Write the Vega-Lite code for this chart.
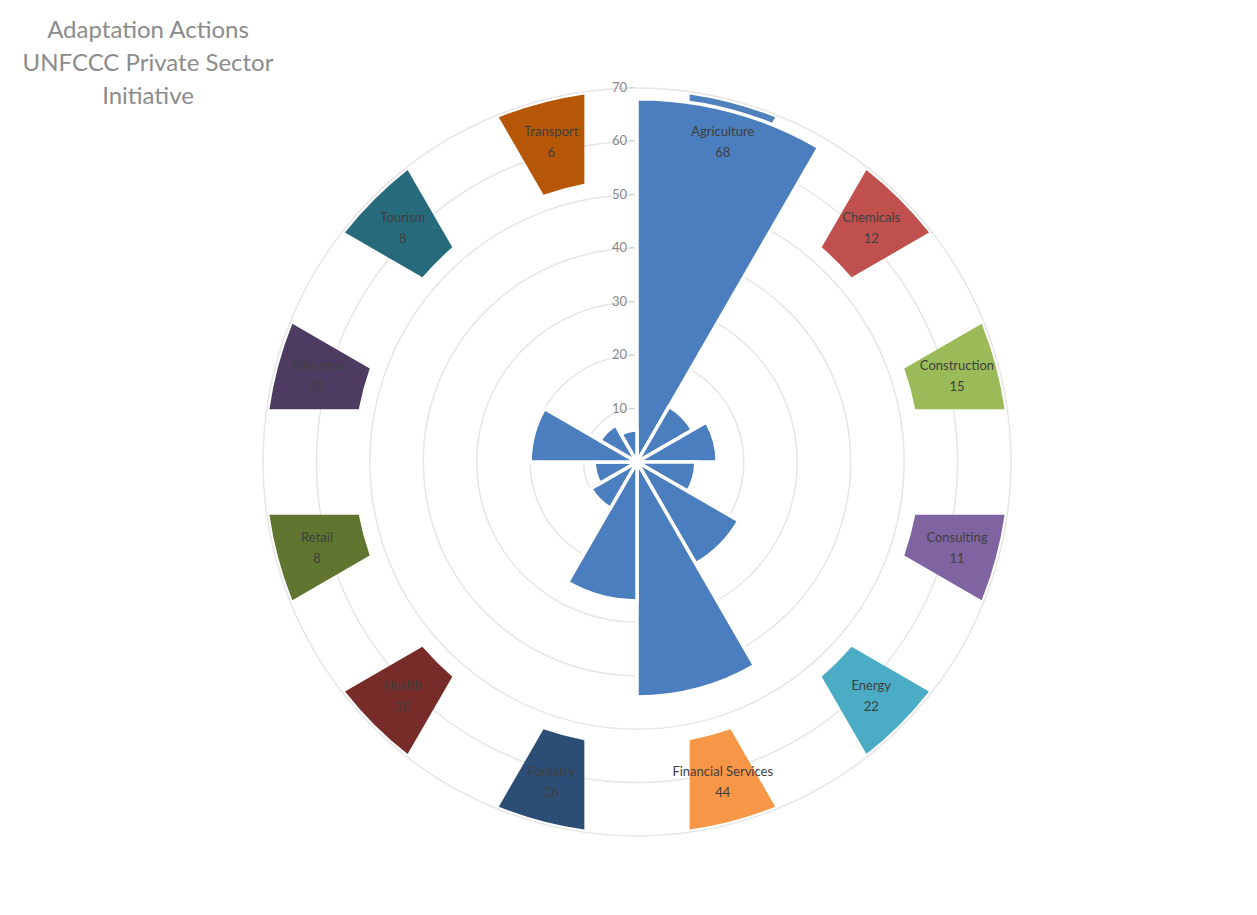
{
  "$schema": "https://vega.github.io/schema/vega-lite/v6.json",
  "width": 1240,
  "height": 906,
  "autosize": "none",
  "padding": {"left": 17, "top": 9, "right": 0, "bottom": 0},
  "background": "white",
  "config": {"view": {"stroke": null}, "font": "Lato"},
  "title": {
    "text": ["Adaptation Actions", "UNFCCC Private Sector", "Initiative"],
    "anchor": "start",
    "frame": "group",
    "align": "center",
    "baseline": "top",
    "dx": 131,
    "offset": -100,
    "fontSize": 24,
    "fontWeight": "normal",
    "color": "#8c8c8c",
    "lineHeight": 33
  },
  "datasets": {
    "sectors": [
      {"n": 1, "sector": "Agriculture", "value": 68},
      {"n": 2, "sector": "Chemicals", "value": 12},
      {"n": 3, "sector": "Construction", "value": 15},
      {"n": 4, "sector": "Consulting", "value": 11},
      {"n": 5, "sector": "Energy", "value": 22},
      {"n": 6, "sector": "Financial Services", "value": 44},
      {"n": 7, "sector": "Forestry", "value": 26},
      {"n": 8, "sector": "Health", "value": 10},
      {"n": 9, "sector": "Retail", "value": 8},
      {"n": 10, "sector": "Telecoms", "value": 20},
      {"n": 11, "sector": "Tourism", "value": 8},
      {"n": 12, "sector": "Transport", "value": 6}
    ],
    "levels": [
      {"level": 10}, {"level": 20}, {"level": 30}, {"level": 40},
      {"level": 50}, {"level": 60}, {"level": 70}
    ]
  },
  "layer": [
    {
      "data": {"name": "levels"},
      "mark": {"type": "arc", "theta": 0, "theta2": 6.2832, "filled": false, "stroke": "#e6e6e6", "strokeWidth": 1.5},
      "encoding": {
        "radius": {"field": "level", "type": "quantitative", "stack": null, "scale": {"type": "linear", "domain": [0, 70], "range": [0, 374], "zero": true}}
      }
    },
    {
      "data": {"name": "sectors"},
      "mark": {"type": "arc", "padAngle": 0.226},
      "encoding": {
        "theta": {"aggregate": "count", "type": "quantitative", "stack": true, "scale": {"domain": [0, 12]}},
        "order": {"field": "n", "type": "quantitative"},
        "radius": {"datum": 69.5, "type": "quantitative", "stack": null, "scale": {"type": "linear", "domain": [0, 70], "range": [0, 374], "zero": true}},
        "radius2": {"datum": 53},
        "color": {
          "field": "sector", "type": "nominal", "legend": null,
          "scale": {
            "domain": ["Agriculture", "Chemicals", "Construction", "Consulting", "Energy", "Financial Services", "Forestry", "Health", "Retail", "Telecoms", "Tourism", "Transport"],
            "range": ["#4F81BD", "#C0504D", "#9BBB59", "#8064A2", "#4BACC6", "#F79646", "#2C4D75", "#772C2A", "#5F7530", "#4D3B62", "#276A7C", "#B65708"]
          }
        }
      }
    },
    {
      "data": {"name": "sectors"},
      "transform": [
        {"aggregate": [{"op": "count", "as": "cnt"}], "groupby": ["n", "sector", "value"]},
        {"stack": "cnt", "groupby": [], "sort": [{"field": "n", "order": "ascending"}], "as": ["t0", "t1"]}
      ],
      "mark": {"type": "arc", "color": "#4A7EBF", "stroke": "white", "strokeWidth": 3.5},
      "encoding": {
        "theta": {"field": "t0", "type": "quantitative", "stack": null, "scale": {"domain": [0, 12]}},
        "theta2": {"field": "t1"},
        "radius": {"field": "value", "type": "quantitative", "stack": null, "scale": {"type": "linear", "domain": [0, 70], "range": [0, 374], "zero": true}}
      }
    },
    {
      "data": {"name": "levels"},
      "mark": {"type": "text", "align": "right", "baseline": "middle", "dx": -10, "fontSize": 13, "color": "#888888"},
      "encoding": {
        "theta": {"value": 0},
        "radius": {"field": "level", "type": "quantitative", "stack": null, "scale": {"type": "linear", "domain": [0, 70], "range": [0, 374], "zero": true}},
        "text": {"field": "level", "type": "quantitative"}
      }
    },
    {
      "data": {"name": "levels"},
      "mark": {"type": "text", "text": "–", "align": "right", "baseline": "middle", "dx": -2, "fontSize": 11, "color": "#c8c8c8"},
      "encoding": {
        "theta": {"value": 0},
        "radius": {"field": "level", "type": "quantitative", "stack": null, "scale": {"type": "linear", "domain": [0, 70], "range": [0, 374], "zero": true}}
      }
    },
    {
      "data": {"name": "sectors"},
      "mark": {"type": "text", "align": "center", "baseline": "middle", "dy": -10, "fontSize": 13, "color": "#404040"},
      "encoding": {
        "theta": {"aggregate": "count", "type": "quantitative", "stack": true, "scale": {"domain": [0, 12]}},
        "order": {"field": "n", "type": "quantitative"},
        "detail": {"field": "sector", "type": "nominal"},
        "radius": {"datum": 62, "type": "quantitative", "stack": null, "scale": {"type": "linear", "domain": [0, 70], "range": [0, 374], "zero": true}},
        "text": {"field": "sector", "type": "nominal"}
      }
    },
    {
      "data": {"name": "sectors"},
      "mark": {"type": "text", "align": "center", "baseline": "middle", "dy": 11, "fontSize": 13, "color": "#404040"},
      "encoding": {
        "theta": {"aggregate": "count", "type": "quantitative", "stack": true, "scale": {"domain": [0, 12]}},
        "order": {"field": "n", "type": "quantitative"},
        "detail": {"field": "sector", "type": "nominal"},
        "radius": {"datum": 62, "type": "quantitative", "stack": null, "scale": {"type": "linear", "domain": [0, 70], "range": [0, 374], "zero": true}},
        "text": {"field": "value", "type": "quantitative"}
      }
    }
  ]
}
